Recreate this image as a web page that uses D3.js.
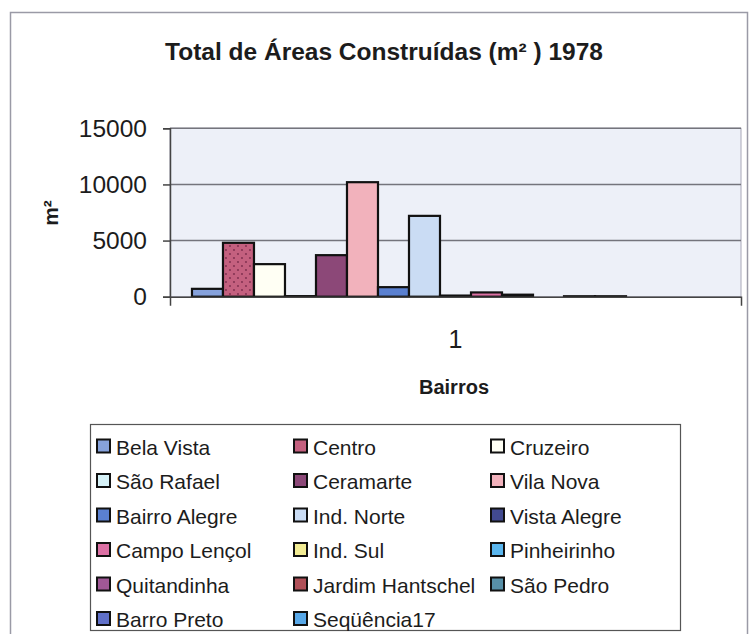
<!DOCTYPE html>
<html>
<head>
<meta charset="utf-8">
<script src="https://cdn.jsdelivr.net/npm/d3@7"></script>
<style>
  body { margin: 0; background: #fff; }
  text { font-family: "Liberation Sans", Arial, sans-serif; fill: #1c1c1c; }
</style>
</head>
<body>
<script>
var categorias = ["1"];
var bairros = ["Bela Vista", "Centro", "Cruzeiro", "São Rafael", "Ceramarte", "Vila Nova",
  "Bairro Alegre", "Ind. Norte", "Vista Alegre", "Campo Lençol", "Ind. Sul", "Pinheirinho",
  "Quitandinha", "Jardim Hantschel", "São Pedro", "Barro Preto", "Seqüência17"];
var areas = [700, 4800, 2900, 50, 3700, 10200, 850, 7200, 100, 380, 180, 0, 40, 40, 0, 0, 0];
var cores = ["#86a2dc", "#c4607f", "#fffff4", "#d6f2f8", "#8c4878", "#f2b2bc",
  "#5a80d0", "#cadcf4", "#424a90", "#dc70a4", "#f2ec94", "#5ab6ee",
  "#a05896", "#b05058", "#5890a8", "#6070c8", "#58a8e8"];
var yTicks = [0, 5000, 10000, 15000];

var width = 749, height = 634;

var svg = d3.select("body").append("svg")
    .attr("width", width)
    .attr("height", height);

// dotted fill for Centro
var defs = svg.append("defs");
var pat = defs.append("pattern")
    .attr("id", "pontos")
    .attr("width", 8).attr("height", 8)
    .attr("patternUnits", "userSpaceOnUse");
pat.append("rect").attr("width", 8).attr("height", 8).attr("fill", cores[1]);
pat.append("circle").attr("cx", 2).attr("cy", 2).attr("r", 0.9).attr("fill", "#7a2a4a");
pat.append("circle").attr("cx", 6).attr("cy", 6).attr("r", 0.9).attr("fill", "#7a2a4a");

function fillFor(i) { return i === 1 ? "url(#pontos)" : cores[i]; }

// outer frame
svg.append("rect")
    .attr("x", 10.5).attr("y", 12.5)
    .attr("width", 737).attr("height", 640)
    .attr("fill", "none")
    .attr("stroke", "#9a9aa6")
    .attr("stroke-width", 1.5);

svg.append("text")
    .attr("x", 384).attr("y", 60)
    .attr("text-anchor", "middle")
    .style("font-size", "24.5px")
    .style("font-weight", "bold")
    .text("Total de Áreas Construídas (m² ) 1978");

var plot = { left: 170, right: 741, top: 128.3, bottom: 296.7 };

var y = d3.scaleLinear().domain([0, 15000]).range([plot.bottom, plot.top]);

var x0 = d3.scaleBand().domain(categorias)
    .range([plot.left, plot.right])
    .paddingInner(0).paddingOuter(0.0417);

var x1 = d3.scaleBand().domain(bairros)
    .range([0, x0.bandwidth()]);

// plot area
svg.append("rect")
    .attr("x", plot.left).attr("y", plot.top)
    .attr("width", plot.right - plot.left)
    .attr("height", plot.bottom - plot.top)
    .attr("fill", "#edf0f8")
    .attr("stroke", "#a8a8b8")
    .attr("stroke-width", 1);

// grid
svg.append("g").selectAll("line")
    .data(yTicks.filter(function(d){ return d > 0; }))
    .enter().append("line")
    .attr("x1", plot.left).attr("x2", plot.right)
    .attr("y1", function(d){ return y(d); })
    .attr("y2", function(d){ return y(d); })
    .attr("stroke", "#74747c")
    .attr("stroke-width", 1.5);

// bars
var grp = svg.append("g").selectAll("g")
    .data(categorias)
    .enter().append("g")
    .attr("transform", function(d){ return "translate(" + x0(d) + ",0)"; });

grp.selectAll("rect")
    .data(bairros.map(function(b, i){ return { nome: b, valor: areas[i], i: i }; }))
    .enter().append("rect")
    .attr("x", function(d){ return x1(d.nome); })
    .attr("y", function(d){ return y(d.valor); })
    .attr("width", x1.bandwidth())
    .attr("height", function(d){ return y(0) - y(d.valor); })
    .attr("fill", function(d){ return fillFor(d.i); })
    .attr("stroke", function(d){ return d.valor > 0 ? "#111" : "none"; })
    .attr("stroke-width", 2.2);

// y axis
var yAxis = d3.axisLeft(y).tickValues(yTicks).tickFormat(d3.format("d"))
    .tickSize(7).tickPadding(16);
var ga = svg.append("g")
    .attr("transform", "translate(" + plot.left + ",0)")
    .call(yAxis);
ga.select(".domain").attr("stroke", "#444").attr("stroke-width", 1.5);
ga.selectAll(".tick line").attr("stroke", "#444").attr("stroke-width", 1.5);
ga.selectAll(".tick text")
    .style("font-size", "24.5px")
    .attr("fill", "#1c1c1c");

// x axis
var xAxis = d3.axisBottom(x0).tickSizeInner(0).tickSizeOuter(9).tickPadding(34);
var gx = svg.append("g")
    .attr("transform", "translate(0," + plot.bottom + ")")
    .call(xAxis);
gx.select(".domain").attr("stroke", "#444").attr("stroke-width", 1.5);
gx.selectAll(".tick text")
    .style("font-size", "25px")
    .attr("fill", "#1c1c1c");

svg.append("text")
    .attr("x", 454).attr("y", 394)
    .attr("text-anchor", "middle")
    .style("font-size", "20px")
    .style("font-weight", "bold")
    .text("Bairros");

svg.append("text")
    .attr("transform", "translate(58,213) rotate(-90)")
    .attr("text-anchor", "middle")
    .style("font-size", "21px")
    .style("font-weight", "bold")
    .text("m²");

// legend
svg.append("rect")
    .attr("x", 90.5).attr("y", 424.5)
    .attr("width", 590).attr("height", 206)
    .attr("fill", "#fff")
    .attr("stroke", "#555")
    .attr("stroke-width", 1.2);

var leg = svg.append("g").selectAll("g")
    .data(bairros)
    .enter().append("g")
    .attr("transform", function(d, i){
      return "translate(" + (97 + (i % 3) * 197) + "," + (446.5 + Math.floor(i / 3) * 34.5) + ")";
    });

leg.append("rect")
    .attr("x", 0).attr("y", -7)
    .attr("width", 13).attr("height", 13)
    .attr("fill", function(d, i){ return cores[i]; })
    .attr("stroke", "#111")
    .attr("stroke-width", 2);

leg.append("text")
    .attr("x", 19).attr("y", 8)
    .style("font-size", "21px")
    .text(function(d){ return d; });
</script>
</body>
</html>
